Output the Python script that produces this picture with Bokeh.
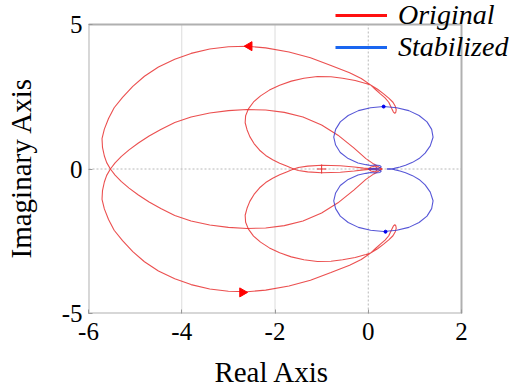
from bokeh.plotting import figure
from bokeh.models import Range1d, FixedTicker, Legend, LegendItem
from bokeh.embed import file_html
from bokeh.resources import INLINE
import math

# ---- data ----
x_ticks = [-6, -4, -2, 0, 2]
x_tick_labels = ["-6", "-4", "-2", "0", "2"]
y_ticks = [-5, 0, 5]
y_tick_labels = ["-5", "0", "5"]
x_grid = [-4, -2]
x_lim = [-6, 2]
y_lim = [-5, 5]
x_title = "Real Axis"
y_title = "Imaginary Axis"

series_names = ["Original", "Stabilized"]

# Original system: positive-frequency branch of the Nyquist curve
orig_re = [0.00, 0.06, 0.14, 0.19, 0.16, 0.06, -0.10, -0.30, -0.60, -1.00, -1.30, -1.50,
           -1.60, -1.75, -1.90, -2.05, -2.20, -2.33, -2.45, -2.54, -2.60, -2.64, -2.63,
           -2.57, -2.46, -2.31, -2.12, -1.90, -1.65, -1.38, -1.09, -0.80, -0.55, -0.28,
           -0.05, 0.05, 0.20, 0.33, 0.44, 0.53, 0.58, 0.60, 0.59, 0.57, 0.54, 0.50, 0.44,
           0.36, 0.26, 0.15, 0.05, -0.15, -0.40, -0.80, -1.24, -1.70, -2.20, -2.60, -3.00,
           -3.40, -3.80, -4.15, -4.50, -4.80, -5.05, -5.27, -5.45, -5.57, -5.66, -5.71,
           -5.70, -5.66, -5.61, -5.53, -5.43, -5.30, -5.13, -4.93, -4.70, -4.45, -4.15,
           -3.80, -3.40, -3.00, -2.60, -2.20, -1.80, -1.40, -1.00, -0.65, -0.31, -0.05,
           0.12, 0.30, 0.15, 0.02]
orig_im = [0.00, 0.07, 0.10, 0.06, 0.02, -0.01, -0.03, -0.07, -0.11, -0.13, -0.10, -0.05,
           0.00, 0.10, 0.20, 0.32, 0.47, 0.65, 0.88, 1.12, 1.36, 1.60, 1.84,
           2.08, 2.32, 2.53, 2.73, 2.90, 3.04, 3.14, 3.20, 3.19, 3.14, 3.06,
           2.96, 2.91, 2.76, 2.60, 2.45, 2.31, 2.17, 2.05, 1.96, 1.93, 1.97, 2.10, 2.31,
           2.46, 2.60, 2.76, 2.91, 3.13, 3.33, 3.58, 3.85, 4.05, 4.19, 4.25, 4.23,
           4.15, 4.00, 3.80, 3.53, 3.21, 2.86, 2.48, 2.12, 1.75, 1.38, 1.05,
           0.75, 0.45, 0.22, 0.00, -0.21, -0.43, -0.66, -0.90, -1.14, -1.37, -1.61,
           -1.80, -1.94, -2.02, -2.06, -2.04, -1.96, -1.80, -1.52, -1.17, -0.73, -0.36,
           -0.17, 0.00, 0.00, 0.00]

# Stabilized system: positive-frequency branch
stab_re = [0.40, 0.51, 0.58, 0.68, 0.80, 0.95, 1.09, 1.22, 1.33, 1.39, 1.36, 1.26, 1.09,
           0.87, 0.61, 0.33, 0.05, -0.21, -0.43, -0.60, -0.70, -0.74, -0.70, -0.60,
           -0.43, -0.22, -0.05, 0.05, 0.15, 0.25, 0.28, 0.22, 0.10, 0.00]
stab_im = [0.00, 0.00, 0.03, 0.07, 0.13, 0.23, 0.36, 0.55, 0.80, 1.10, 1.37, 1.63, 1.85,
           2.02, 2.12, 2.16, 2.12, 2.02, 1.85, 1.63, 1.37, 1.10, 0.83, 0.57,
           0.36, 0.21, 0.15, 0.12, 0.14, 0.12, 0.07, 0.03, 0.02, 0.00]

# direction arrows and the -1 point
orig_arrow_re = [-2.55, -2.70]
orig_arrow_im = [4.25, -4.27]
orig_arrow_angle = [math.pi / 2, -math.pi / 2]
stab_arrow_re = [0.33, 0.37]
stab_arrow_im = [2.16, -2.17]
crit_re = [-1.0]
crit_im = [0.0]

RED = "#e83030"
BLUE = "#3a3ad0"
SERIF = "Liberation Serif"
NBSP = "\u00a0"

# plotted area is 373 x 289 px; the drawing area is extended up/right
# so that the legend (over the top-right corner) is not clipped
px_x = 373 / (x_lim[1] - x_lim[0])
px_y = 289 / (y_lim[1] - y_lim[0])
x_end = x_lim[1] + 52 / px_x
y_end = y_lim[1] + 24 / px_y

p = figure(width=513, height=391, output_backend="svg", toolbar_location=None,
           x_range=Range1d(x_lim[0], x_end), y_range=Range1d(y_lim[0], y_end),
           min_border_left=88, min_border_right=0, min_border_top=0, min_border_bottom=78)
p.background_fill_color = "white"
p.border_fill_color = "white"
p.outline_line_color = None
p.xgrid.grid_line_color = None
p.ygrid.grid_line_color = None

# grid lines, zero lines and the grey box of the plot area
p.segment(x0=x_grid, y0=[y_lim[0]] * len(x_grid), x1=x_grid, y1=[y_lim[1]] * len(x_grid),
          line_color="#dcdcdc", line_width=1)
p.segment(x0=[0, x_lim[0]], y0=[y_lim[0], 0], x1=[0, x_lim[1]], y1=[y_lim[1], 0],
          line_color="#b8b8b8", line_dash="2 2", line_width=1)
p.quad(left=[x_lim[0]], right=[x_lim[1]], bottom=[y_lim[0]], top=[y_lim[1]],
       fill_color=None, line_color="#b0b0b0", line_width=2)

for ax, ticks, labels in ((p.xaxis, x_ticks, x_tick_labels), (p.yaxis, y_ticks, y_tick_labels)):
    ax.ticker = FixedTicker(ticks=ticks)
    ax.major_label_overrides = {t: l for t, l in zip(ticks, labels)}
    ax.axis_line_color = None
    ax.major_tick_in = 4
    ax.major_tick_out = 0
    ax.major_tick_line_color = "#999999"
    ax.minor_tick_line_color = None
    ax.major_label_text_font = SERIF
    ax.major_label_text_font_size = "25px"
    ax.major_label_text_color = "black"
    ax.axis_label_text_font = SERIF
    ax.axis_label_text_font_size = "29px"
    ax.axis_label_text_font_style = "normal"
    ax.axis_label_text_color = "black"
p.xaxis.bounds = (x_lim[0], x_lim[1])
p.yaxis.bounds = (y_lim[0], y_lim[1])
p.xaxis.major_label_standoff = 9
p.yaxis.major_label_standoff = 6
# trailing no-break spaces re-centre the titles on the plotted box (the frame is wider)
p.xaxis.axis_label = x_title + NBSP * 8
p.yaxis.axis_label = y_title + NBSP * 3
p.xaxis.axis_label_standoff = 13
p.yaxis.axis_label_standoff = 22

# curves: branch and its complex conjugate
p.line(orig_re, orig_im, line_color=RED, line_width=1.1, line_alpha=0.85)
p.line(orig_re, [-v for v in orig_im], line_color=RED, line_width=1.1, line_alpha=0.85)
p.line(stab_re, stab_im, line_color=BLUE, line_width=1.1, line_alpha=0.85)
p.line(stab_re, [-v for v in stab_im], line_color=BLUE, line_width=1.1, line_alpha=0.85)

p.scatter(orig_arrow_re, orig_arrow_im, marker="triangle", angle=orig_arrow_angle,
          size=9, fill_color="#ff0000", line_color="#ff0000")
p.scatter(stab_arrow_re, stab_arrow_im, marker="circle", size=3,
          fill_color="#0000ee", line_color="#0000ee")
p.scatter(crit_re, crit_im, marker="cross", size=9, line_color=RED, line_width=1)

leg_o = p.line([math.nan], [math.nan], line_color="#ff1010", line_width=3)
leg_s = p.line([math.nan], [math.nan], line_color="#1a66f0", line_width=3)
legend = Legend(items=[LegendItem(label=series_names[0], renderers=[leg_o]),
                       LegendItem(label=series_names[1], renderers=[leg_s])],
                location=(247, 250), orientation="vertical",
                glyph_width=52, glyph_height=30, label_height=30, label_standoff=11,
                spacing=0, padding=0, margin=0,
                border_line_color=None, background_fill_alpha=0,
                label_text_font=SERIF, label_text_font_style="italic",
                label_text_font_size="28px", label_text_color="black")
p.add_layout(legend)

open("out.html", "w").write(file_html(p, INLINE))
